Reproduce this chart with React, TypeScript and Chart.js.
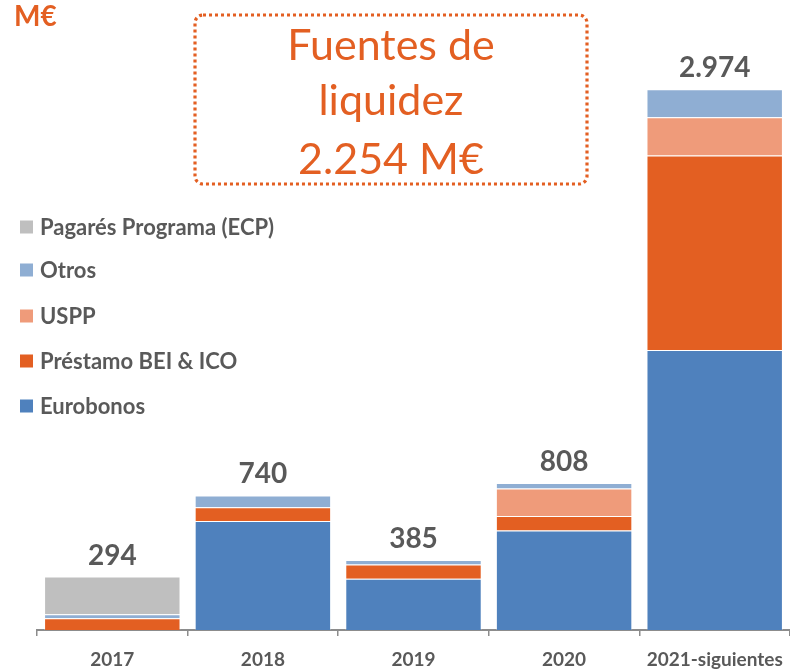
import React, { useEffect, useRef } from "react";
import { Chart, registerables } from "chart.js";

Chart.register(...registerables);

const categories = ["2017", "2018", "2019", "2020", "2021-siguientes"];
const eurobonos = [0, 600, 282, 547, 1540];
const prestamoBeiIco = [65, 75, 78, 80, 1070];
const uspp = [0, 0, 0, 151, 210];
const otros = [22, 65, 25, 30, 154];
const pagaresEcp = [207, 0, 0, 0, 0];
const totals = [294, 740, 385, 808, 2974];
const boxLines = ["Fuentes de", "liquidez", "2.254 M€"];
const unitLabel = "M€";

const ORANGE = "#E35F22";
const GRAY_TEXT = "#595959";
const FONT = "Lato, 'Open Sans', sans-serif";

const fmt = (n: number) => String(n).replace(/\B(?=(\d{3})+(?!\d))/g, ".");

const decorPlugin = {
  id: "decor",
  afterDatasetsDraw(chart: any) {
    const ctx = chart.ctx as CanvasRenderingContext2D;
    ctx.save();
    // totals above bars
    const meta = chart.getDatasetMeta(0);
    const yScale = chart.scales.y;
    ctx.fillStyle = GRAY_TEXT;
    ctx.font = `bold 28px ${FONT}`;
    ctx.textAlign = "center";
    ctx.textBaseline = "bottom";
    totals.forEach((t, i) => {
      const x = meta.data[i].x;
      const y = yScale.getPixelForValue(t);
      ctx.fillText(fmt(t), x, y - 7);
    });

    // legend (reverse order)
    const ds = chart.data.datasets.slice().reverse();
    const ys = [227, 270, 316, 361, 406];
    ctx.font = `bold 22px ${FONT}`;
    ctx.textAlign = "left";
    ctx.textBaseline = "middle";
    ds.forEach((d: any, i: number) => {
      ctx.fillStyle = d.backgroundColor;
      ctx.fillRect(20, ys[i] - 6.5, 13, 13);
      ctx.fillStyle = GRAY_TEXT;
      ctx.fillText(d.label, 40, ys[i] + 1);
    });

    // unit label
    ctx.fillStyle = ORANGE;
    ctx.font = `bold 28px ${FONT}`;
    ctx.textBaseline = "middle";
    ctx.fillText(unitLabel, 14, 17);

    // dotted box
    ctx.strokeStyle = ORANGE;
    ctx.lineWidth = 3.2;
    ctx.setLineDash([3, 3]);
    ctx.beginPath();
    (ctx as any).roundRect(195, 15, 392, 169, 8);
    ctx.stroke();
    ctx.setLineDash([]);
    ctx.fillStyle = ORANGE;
    ctx.font = `43px ${FONT}`;
    ctx.textAlign = "center";
    ctx.textBaseline = "middle";
    const lys = [46, 101, 160];
    boxLines.forEach((l, i) => ctx.fillText(l, 391, lys[i]));
    ctx.restore();
  },
};

export default function App() {
  const ref = useRef<HTMLCanvasElement | null>(null);
  useEffect(() => {
    if (!ref.current) return;
    const border = "rgba(255,255,255,0.3)";
    const chart = new Chart(ref.current, {
      type: "bar",
      data: {
        labels: categories,
        datasets: [
          { label: "Eurobonos", data: eurobonos, backgroundColor: "#4F81BD", borderColor: border, borderWidth: 1 },
          { label: "Préstamo BEI & ICO", data: prestamoBeiIco, backgroundColor: "#E35F22", borderColor: border, borderWidth: 1 },
          { label: "USPP", data: uspp, backgroundColor: "#EF9B7A", borderColor: border, borderWidth: 1 },
          { label: "Otros", data: otros, backgroundColor: "#8FAED3", borderColor: border, borderWidth: 1 },
          { label: "Pagarés Programa (ECP)", data: pagaresEcp, backgroundColor: "#BFBFBF", borderColor: border, borderWidth: 1 },
        ],
      },
      options: {
        animation: false,
        responsive: false,
        layout: { padding: { left: 37, right: 0, top: 0, bottom: 0 } },
        datasets: { bar: { categoryPercentage: 0.906, barPercentage: 1 } },
        plugins: { legend: { display: false }, tooltip: { enabled: false } },
        scales: {
          x: {
            stacked: true,
            grid: { display: true, drawOnChartArea: false, offset: true, tickLength: 6, color: "#8C8C8C", lineWidth: 1.5 },
            border: { display: true, color: "#8C8C8C", width: 2 },
            ticks: { color: GRAY_TEXT, font: { family: FONT, size: 19, weight: "bold" }, padding: 12, maxRotation: 0, autoSkip: false },
            afterFit: (s: any) => { s.height = 40; s.paddingRight = 0; s.paddingLeft = 0; },
          } as any,
          y: { stacked: true, display: false, min: 0, max: 3465 },
        },
      },
      plugins: [decorPlugin],
    } as any);
    return () => chart.destroy();
  }, []);
  return (
    <div style={{ position: "fixed", left: 0, top: 0, width: 790, height: 670, background: "#fff" }}>
      <canvas ref={ref} width={790} height={670} style={{ width: 790, height: 670, display: "block" }} />
    </div>
  );
}
